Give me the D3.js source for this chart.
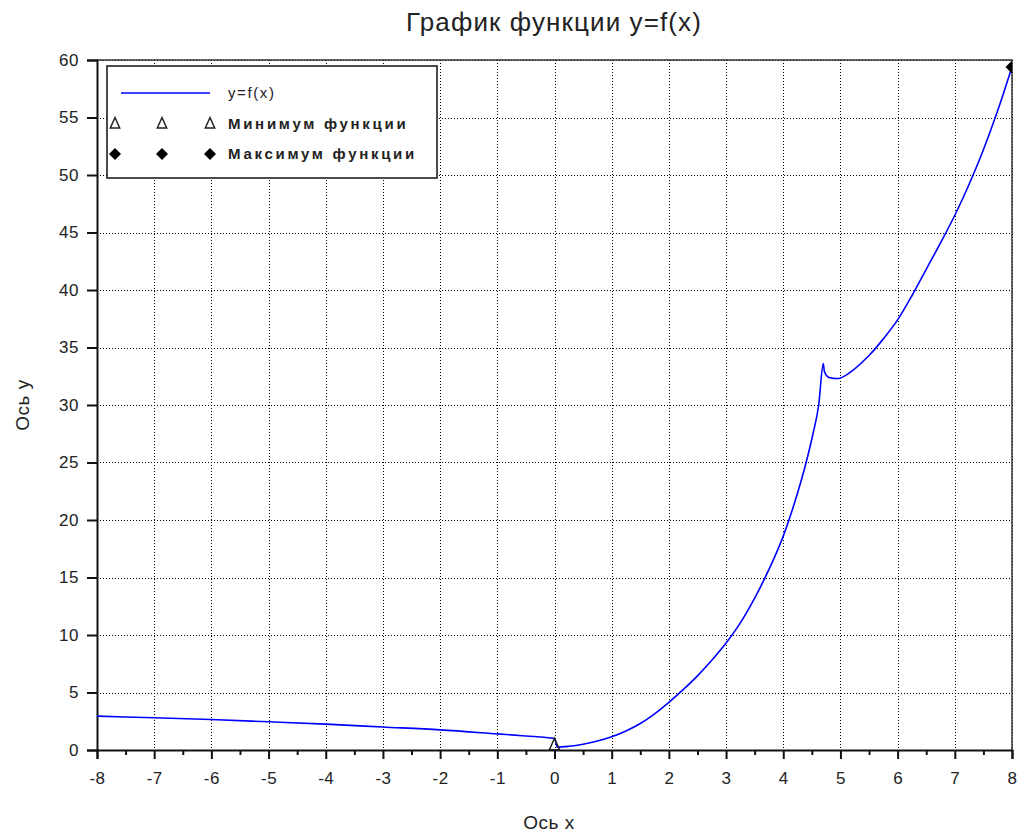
<!DOCTYPE html>
<html>
<head>
<meta charset="utf-8">
<script src="https://cdn.jsdelivr.net/npm/d3@7"></script>
<style>
  body { margin: 0; background: #fff; }
  text { font-family: "Liberation Sans", Arial, sans-serif; fill: #222; }
</style>
</head>
<body>
<script>
// values
const curveX = [-8, -7, -6, -5, -4, -3, -2, -1, -0.5, 0,
  0.05, 0.25, 0.5, 0.75, 1, 1.25, 1.5, 1.75, 2, 2.25, 2.5, 2.75, 3, 3.25, 3.5, 3.75, 4,
  4.25, 4.4, 4.52, 4.62, 4.7, 4.72, 4.8, 4.95, 5.1, 5.25, 5.5, 5.75, 6, 6.25, 6.5, 6.75, 7, 7.25, 7.5, 7.75, 8];
const curveY = [2.95, 2.8, 2.65, 2.45, 2.25, 2.0, 1.75, 1.4, 1.22, 1.0,
  0.25, 0.32, 0.5, 0.78, 1.15, 1.65, 2.3, 3.15, 4.15, 5.25, 6.45, 7.8, 9.3, 11.05, 13.2, 15.7, 18.6,
  22.35, 25, 27.5, 30, 33.6, 32.9, 32.4, 32.3, 32.6, 33.15, 34.3, 35.75, 37.4, 39.5, 41.8, 44.1, 46.5, 49.2, 52.2, 55.6, 59.4];
const minPoint = [0, 0.5];
const maxPoint = [8, 59.4];
const xTicks = [-8, -7, -6, -5, -4, -3, -2, -1, 0, 1, 2, 3, 4, 5, 6, 7, 8];
const yTicks = [0, 5, 10, 15, 20, 25, 30, 35, 40, 45, 50, 55, 60];
const legendLabels = ["y=f(x)", "Минимум функции", "Максимум функции"];

const width = 1021, height = 835;
const margin = { top: 60, right: 9, bottom: 85, left: 97 };
const w = width - margin.left - margin.right,
  h = height - margin.top - margin.bottom;

const svg = d3.select("body").append("svg")
  .attr("width", width)
  .attr("height", height);

const g = svg.append("g")
  .attr("transform", "translate(" + margin.left + "," + margin.top + ")");

const x = d3.scaleLinear().domain([-8, 8]).range([0, w]);
const y = d3.scaleLinear().domain([0, 60]).range([h, 0]);

// grid
g.selectAll("line.vgrid")
  .data(xTicks)
  .enter().append("line")
  .attr("x1", d => Math.round(x(d)) + 0.5).attr("x2", d => Math.round(x(d)) + 0.5)
  .attr("y1", 0).attr("y2", h)
  .attr("stroke", "#000")
  .attr("stroke-dasharray", "1,2");
g.selectAll("line.hgrid")
  .data(yTicks)
  .enter().append("line")
  .attr("x1", 0).attr("x2", w)
  .attr("y1", d => Math.round(y(d)) + 0.5).attr("y2", d => Math.round(y(d)) + 0.5)
  .attr("stroke", "#000")
  .attr("stroke-dasharray", "1,2");

// frame top/right
g.append("path")
  .attr("d", "M0,0H" + w + "V" + h)
  .attr("fill", "none")
  .attr("stroke", "#333")
  .attr("stroke-width", 1.5);

// axes
const xAxis = g.append("g")
  .attr("transform", "translate(0," + h + ")")
  .call(d3.axisBottom(x).tickValues(xTicks).tickSize(9).tickPadding(13));
const xMinor = g.append("g")
  .attr("transform", "translate(0," + h + ")")
  .call(d3.axisBottom(x).tickValues(d3.range(-7.5, 8, 1)).tickSize(5).tickFormat(""));
const yAxis = g.append("g")
  .call(d3.axisLeft(y).tickValues(yTicks).tickSize(10).tickPadding(8));

[xAxis, yAxis, xMinor].forEach(a => {
  a.select(".domain").attr("stroke", "#111").attr("stroke-width", 2);
  a.selectAll(".tick line").attr("stroke", "#111").attr("stroke-width", 2);
  a.selectAll("text")
    .style("font-size", "17px")
    .style("letter-spacing", "0.5px")
    .attr("fill", "#222");
});
xMinor.select(".domain").remove();
xAxis.selectAll("text").text(d => d < 0 ? "-" + Math.abs(d) : d);

svg.append("clipPath").attr("id", "clip")
  .append("rect").attr("width", w).attr("height", h);

const plot = g.append("g").attr("clip-path", "url(#clip)");

const line = d3.line()
  .x((d, i) => x(curveX[i]))
  .y((d, i) => y(curveY[i]))
  .curve(d3.curveMonotoneX);

plot.append("path")
  .datum(curveX)
  .attr("d", line)
  .attr("fill", "none")
  .attr("stroke", "#0000ff")
  .attr("stroke-width", 1.6);

// markers
const triPath = s => "M0," + (-s) + "L" + (s * 0.85) + "," + (s * 0.9) + "L" + (-s * 0.85) + "," + (s * 0.9) + "Z";
const diaPath = s => "M0," + (-s) + "L" + s + ",0L0," + s + "L" + (-s) + ",0Z";

g.append("path")
  .attr("d", triPath(6))
  .attr("transform", "translate(" + x(minPoint[0]) + "," + y(minPoint[1]) + ")")
  .attr("fill", "none")
  .attr("stroke", "#222")
  .attr("stroke-width", 1.5);
plot.append("path")
  .attr("d", diaPath(6.5))
  .attr("transform", "translate(" + x(maxPoint[0]) + "," + y(maxPoint[1]) + ")")
  .attr("fill", "#000");

// legend
const lg = svg.append("g").attr("transform", "translate(107,66)");
lg.append("rect")
  .attr("width", 330).attr("height", 112)
  .attr("fill", "#fff")
  .attr("stroke", "#111")
  .attr("stroke-width", 1.5);
lg.append("line")
  .attr("x1", 14).attr("x2", 103)
  .attr("y1", 27).attr("y2", 27)
  .attr("stroke", "#0000ff")
  .attr("stroke-width", 1.6);
[8, 55, 103].forEach(px => {
  lg.append("path")
    .attr("d", triPath(5.5))
    .attr("transform", "translate(" + px + ",57)")
    .attr("fill", "none").attr("stroke", "#222").attr("stroke-width", 1.5);
  lg.append("path")
    .attr("d", diaPath(6))
    .attr("transform", "translate(" + px + ",88)")
    .attr("fill", "#000");
});
lg.selectAll("text.lab")
  .data(legendLabels)
  .enter().append("text")
  .attr("x", 121)
  .attr("y", (d, i) => 27 + i * 30.5)
  .attr("dy", "0.36em")
  .style("font-size", "15px")
  .style("font-weight", (d, i) => i === 0 ? "normal" : "bold")
  .style("letter-spacing", (d, i) => i === 0 ? "1.6px" : "2.7px")
  .text(d => d);

// titles
svg.append("text")
  .attr("x", 554).attr("y", 31)
  .attr("text-anchor", "middle")
  .style("font-size", "26px")
  .style("letter-spacing", "1.1px")
  .text("График функции y=f(x)");
svg.append("text")
  .attr("x", 549).attr("y", 829)
  .attr("text-anchor", "middle")
  .style("font-size", "19px")
  .style("letter-spacing", "0.5px")
  .text("Ось x");
svg.append("text")
  .attr("transform", "translate(29,405) rotate(-90)")
  .attr("text-anchor", "middle")
  .style("font-size", "19px")
  .style("letter-spacing", "0.5px")
  .text("Ось y");
</script>
</body>
</html>
